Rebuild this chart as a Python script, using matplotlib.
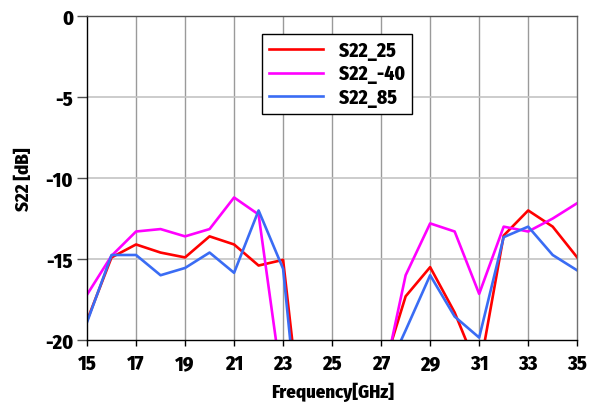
import numpy as np
import matplotlib.pyplot as plt

plt.rcParams['font.family'] = ['Fira Sans Condensed', 'PT Sans Narrow',
                               'Liberation Sans Narrow', 'DejaVu Sans']
plt.rcParams['font.weight'] = 'heavy'
plt.rcParams['axes.unicode_minus'] = False

freq = np.arange(15, 36)
s22_25 = [-18.8, -14.9, -14.1, -14.6, -14.9, -13.6, -14.1, -15.4, -15.05, -28.4,
          -30.0, -30.0, -22.2, -17.3, -15.5, -18.3, -22.0, -13.55, -12.0, -13.0, -14.9]
s22_m40 = [-17.2, -14.8, -13.3, -13.15, -13.6, -13.15, -11.2, -12.25, -23.2, -30.0,
           -30.0, -30.0, -23.1, -16.0, -12.8, -13.3, -17.15, -13.0, -13.3, -12.5, -11.55]
s22_85 = [-18.9, -14.75, -14.75, -16.0, -15.55, -14.6, -15.85, -12.0, -15.6, -30.8,
          -30.0, -30.0, -22.7, -19.4, -16.0, -18.55, -19.85, -13.65, -13.0, -14.75, -15.7]

xticks = np.arange(15, 36, 2)
yticks = np.arange(-20, 1, 5)

fig = plt.figure(figsize=(5.92, 4.06), dpi=100)
ax = fig.add_axes([0.147, 0.160, 0.828, 0.798])

ax.plot(freq, s22_25, color='#ff0000', lw=1.9, label='S22_25')
ax.plot(freq, s22_m40, color='#ff00ff', lw=1.9, label='S22_-40')
ax.plot(freq, s22_85, color='#3a6cf4', lw=1.9, label='S22_85')

ax.set_xlim(15, 35)
ax.set_ylim(-20, 0)
ax.set_xticks(xticks)
ax.set_yticks(yticks)

# vertical grid darker than horizontal
for x in xticks[1:-1]:
    ax.axvline(x, color='#9a9a9a', lw=1.0, zorder=0)
for y in yticks[1:-1]:
    ax.axhline(y, color='#c4c4c4', lw=1.2, zorder=0)

ax.spines['left'].set_color('black')
ax.spines['bottom'].set_color('black')
ax.spines['top'].set_color('#505050')
ax.spines['right'].set_color('#707070')
for s in ax.spines.values():
    s.set_linewidth(1.0)

ax.tick_params(axis='x', direction='out', length=4, width=1, labelsize=14.5, pad=6)
ax.tick_params(axis='y', direction='out', length=7, width=1, labelsize=14.5, pad=3,
               color='#505050')

ax.set_xlabel('Frequency[GHz]', fontsize=13.5, fontweight='heavy', labelpad=6)
ax.set_ylabel('S22 [dB]', fontsize=13.5, fontweight='heavy', labelpad=9)

leg = ax.legend(loc='upper left', bbox_to_anchor=(0.337, 0.975), fontsize=14,
                frameon=True, fancybox=False, edgecolor='black', framealpha=1,
                handlelength=2.8, handletextpad=0.8, borderpad=0.35, labelspacing=0.2)
leg.get_frame().set_linewidth(1.0)

fig.savefig('out.png', dpi=100)
